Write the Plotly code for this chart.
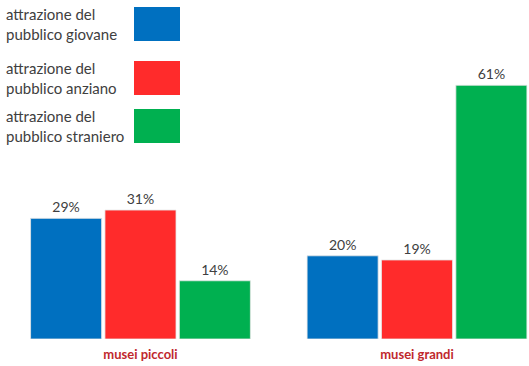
import plotly.graph_objects as go

categories = ["musei piccoli", "musei grandi"]
series_names = ["attrazione del<br>pubblico giovane",
                "attrazione del<br>pubblico anziano",
                "attrazione del<br>pubblico straniero"]
series_values = [[29, 20], [31, 19], [14, 61]]
colors = ["#0070C0", "#FF2B2B", "#00B050"]

W, H = 529, 366
fig = go.Figure()
for name, vals, c in zip(series_names, series_values, colors):
    fig.add_trace(go.Bar(
        x=[0, 1], y=vals, name=name,
        marker=dict(color=c, line=dict(color="rgba(230,230,230,0.8)", width=1)),
        text=[f"{v}%" for v in vals], textposition="outside",
        textfont=dict(family="Lato, Open Sans, sans-serif", size=14, color="#404040"),
        cliponaxis=False, showlegend=False,
    ))

# custom legend (text left, swatch right)
plot_h = 339
box_tops = [7, 61, 109]
box_h = 34
for i, (name, c) in enumerate(zip(series_names, colors)):
    y0 = (plot_h - (box_tops[i] + box_h)) / plot_h
    y1 = (plot_h - box_tops[i]) / plot_h
    fig.add_shape(type="rect", xref="paper", yref="paper",
                  x0=134 / W, x1=180 / W, y0=y0, y1=y1,
                  fillcolor=c, line=dict(width=0))
    fig.add_annotation(xref="paper", yref="paper", x=4 / W, y=(y0 + y1) / 2,
                       xanchor="left", yanchor="middle", align="left",
                       text=name, showarrow=False,
                       font=dict(family="Lato, Open Sans, sans-serif", size=15, color="#404040"))

fig.update_layout(
    width=W, height=H,
    margin=dict(l=0, r=0, t=0, b=27),
    paper_bgcolor="white", plot_bgcolor="white",
    barmode="group", bargap=0.193, bargroupgap=0.045,
    xaxis=dict(range=[-0.508, 1.405], tickvals=[0, 1], ticktext=categories,
               showgrid=False, zeroline=False, showline=False, ticks="",
               ticklabelstandoff=6,
               tickfont=dict(family="Lato, Open Sans, sans-serif", size=13, color="#C0282D", weight="bold")),
    yaxis=dict(range=[0, 81.5], visible=False),
)
fig.write_html("out.html")
